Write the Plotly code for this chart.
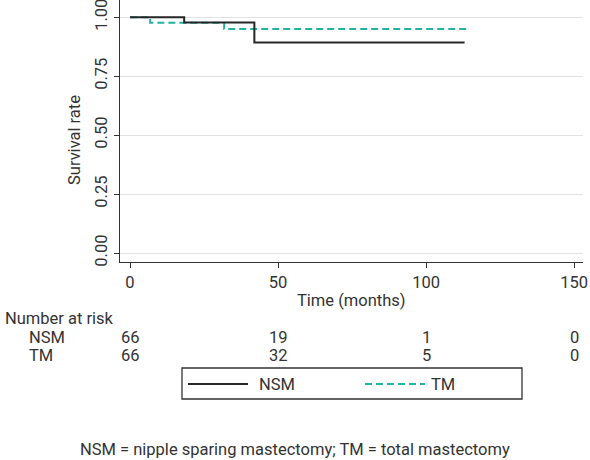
import plotly.graph_objects as go

# ---- data ----
nsm_time = [0, 18.3, 42.0, 113.0]
nsm_surv = [1.0, 0.978, 0.893, 0.893]
tm_time = [0, 6.8, 31.8, 114.0]
tm_surv = [1.0, 0.976, 0.950, 0.950]

risk_times = [0, 50, 100, 150]
risk_nsm = [66, 19, 1, 0]
risk_tm = [66, 32, 5, 0]

x_ticks = [0, 50, 100, 150]
y_ticks = [0.0, 0.25, 0.50, 0.75, 1.00]
y_ticklabels = ["0.00", "0.25", "0.50", "0.75", "1.00"]

NSM_COLOR = "#262626"
TM_COLOR = "#22b2a2"
TXT = "#333333"
FONT = "Roboto"
FS = 16.5
DASH = "7px,4px"

W, H = 590, 460
L, R, T, B = 120, 7, 0, 198
PH = H - T - B  # plot height in px
PW = W - L - R


def py(pix):
    """pixel y (from top) -> paper y"""
    return (H - B - pix) / PH


def px(pix):
    return (pix - L) / PW


def txt(text, x, y, xanchor="left", xref="paper", angle=0):
    return dict(text=text, xref=xref, yref="paper", x=x, y=y, xanchor=xanchor,
                yanchor="middle", showarrow=False, textangle=angle,
                font=dict(size=FS, color=TXT, family=FONT))


fig = go.Figure()
fig.add_trace(go.Scatter(x=tm_time, y=tm_surv, mode="lines", line_shape="hv",
                         line=dict(color=TM_COLOR, width=2, dash=DASH), name="TM", showlegend=False))
fig.add_trace(go.Scatter(x=nsm_time, y=nsm_surv, mode="lines", line_shape="hv",
                         line=dict(color=NSM_COLOR, width=2), name="NSM", showlegend=False))

annotations = [
    txt("Number at risk", px(3), py(318)),
    txt("NSM", px(27), py(337)),
    txt("TM", px(27), py(355)),
]
for t, n in zip(risk_times, risk_nsm):
    annotations.append(txt(str(n), t, py(337), "center", "x"))
for t, n in zip(risk_times, risk_tm):
    annotations.append(txt(str(n), t, py(355), "center", "x"))

annotations.append(txt("Time (months)", 0.5, py(300), "center"))
annotations.append(txt("Survival rate", px(74), py(140), "center", angle=-90))
annotations.append(txt("NSM", px(257), py(384)))
annotations.append(txt("TM", px(429), py(384)))
annotations.append(txt("NSM = nipple sparing mastectomy; TM = total mastectomy",
                       px(W / 2), py(449), "center"))

shapes = [
    dict(type="rect", xref="paper", yref="paper", x0=px(182), x1=px(522), y0=py(368), y1=py(399),
         line=dict(color="#333333", width=1.3), fillcolor="rgba(0,0,0,0)"),
    dict(type="line", xref="paper", yref="paper", x0=px(188), x1=px(248), y0=py(384), y1=py(384),
         line=dict(color=NSM_COLOR, width=2)),
    dict(type="line", xref="paper", yref="paper", x0=px(365), x1=px(425), y0=py(384), y1=py(384),
         line=dict(color=TM_COLOR, width=2, dash=DASH)),
]

fig.update_layout(
    width=W, height=H,
    margin=dict(l=L, r=R, t=T, b=B),
    paper_bgcolor="white", plot_bgcolor="white",
    font=dict(family=FONT, size=FS, color=TXT),
    showlegend=False,
    annotations=annotations,
    shapes=shapes,
    xaxis=dict(range=[-3.38, 153.0], tickvals=x_ticks, ticks="outside", ticklen=5,
               tickcolor="#333333", showline=True, linecolor="#333333", linewidth=1.3,
               showgrid=False, zeroline=False, tickfont=dict(size=FS, color=TXT),
               ticklabeloverflow="allow"),
    yaxis=dict(range=[-0.038, 1.073], tickvals=y_ticks, ticktext=y_ticklabels, tickangle=-90,
               ticks="outside", ticklen=5, tickcolor="#333333", showline=True,
               linecolor="#333333", linewidth=1.3, showgrid=True, gridcolor="#e3e3e3",
               gridwidth=1, zeroline=False, tickfont=dict(size=FS, color=TXT),
               ticklabeloverflow="allow"),
)

fig.write_html("out.html", config={"displayModeBar": False},
               post_script="document.body.style.margin='0';document.body.style.padding='0';"
                           "document.body.style.overflow='hidden';")
